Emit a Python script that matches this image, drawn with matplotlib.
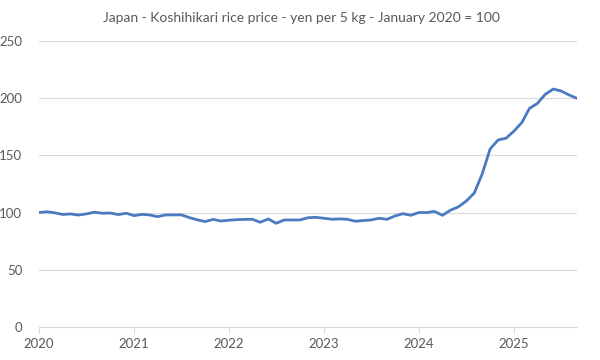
import numpy as np
import pandas as pd
import matplotlib
matplotlib.use("Agg")
import matplotlib.pyplot as plt
import matplotlib.dates as mdates

title = "Japan - Koshihikari rice price - yen per 5 kg - January 2020 = 100"
start_month = "2020-01-01"

# monthly index, Jan 2020 .. Sep 2025
price_2020 = [100, 100.7, 99.8, 98.3, 98.8, 97.8, 98.8, 100.3, 99.4, 99.6, 98.2, 99.4]
price_2021 = [97.3, 98.4, 97.9, 96.4, 97.9, 97.9, 98.0, 95.6, 93.6, 92.1, 94.0, 92.6]
price_2022 = [93.3, 93.8, 94.0, 94.1, 91.5, 94.4, 90.6, 93.5, 93.5, 93.5, 95.5, 95.8]
price_2023 = [95.0, 94.1, 94.4, 94.1, 92.4, 93.0, 93.5, 95.0, 94.1, 97.0, 99.0, 97.6]
price_2024 = [100, 100, 101, 97.6, 102, 105, 110, 117, 134, 155.6, 163.5, 165]
price_2025 = [171.3, 179, 191, 195.5, 203.4, 208, 206.3, 202.8, 199.8]

yticks = [0, 50, 100, 150, 200, 250]
year_ticks = ["2020", "2021", "2022", "2023", "2024", "2025"]

values = price_2020 + price_2021 + price_2022 + price_2023 + price_2024 + price_2025
dates = pd.date_range(start_month, periods=len(values), freq="MS")

plt.rcParams["font.family"] = ["Lato", "DejaVu Sans"]
grey = "#595959"
gridc = "#d9d9d9"

fig = plt.figure(figsize=(6, 3.6), dpi=100)
ax = fig.add_axes([0.065, 0.092, 0.897, 0.794])

ax.plot(dates, values, color="#4a7bc1", linewidth=2.0, solid_joinstyle="round", zorder=3)

ax.set_ylim(0, 250)
ax.set_yticks(yticks)
ax.set_xlim(dates[0], dates[-1])
ax.set_xticks([pd.Timestamp(y + "-01-01") for y in year_ticks])
ax.set_xticklabels(year_ticks)

ax.grid(axis="y", color=gridc, linewidth=0.8)
ax.set_axisbelow(True)
for s in ["top", "right", "left"]:
    ax.spines[s].set_visible(False)
ax.spines["bottom"].set_color(gridc)
ax.spines["bottom"].set_linewidth(0.8)

ax.tick_params(axis="y", length=0, pad=12, labelsize=9.5, labelcolor=grey)
ax.tick_params(axis="x", length=4, width=0.8, color=gridc, pad=4, labelsize=9.5, labelcolor=grey)

fig.text(0.502, 0.95, title, ha="center", va="center", fontsize=10, color=grey)

fig.savefig("out.png", dpi=100)
